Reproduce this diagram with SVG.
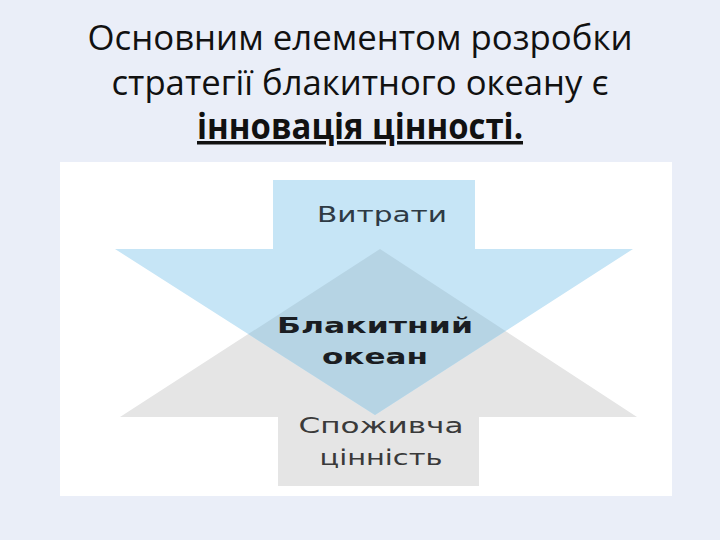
<svg xmlns="http://www.w3.org/2000/svg" width="720" height="540" viewBox="0 0 720 540">
<style>
.title{font-family:"Open Sans","Noto Sans","Liberation Sans",sans-serif;font-size:35px;fill:#111;text-anchor:middle}
.lbl{font-family:"DejaVu Sans","Liberation Sans",sans-serif;font-size:22px;text-anchor:middle}
</style>
<rect x="0" y="0" width="720" height="540" fill="#eaeef8"/>
<g id="title">
<text class="title" x="360" y="50" textLength="545" lengthAdjust="spacingAndGlyphs">Основним елементом розробки</text>
<text class="title" x="360" y="95" textLength="497" lengthAdjust="spacingAndGlyphs">стратегії блакитного океану є</text>
<text class="title" x="360" y="139" font-weight="bold" text-decoration="underline" textLength="326" lengthAdjust="spacingAndGlyphs">інновація цінності.</text>
</g>
<rect id="panel" x="60" y="162" width="612" height="334" fill="#ffffff"/>
<g id="value-arrow">
<polygon points="278,417 120,417 380,249 637,417 479,417 479,486 278,486" fill="#e5e5e5"/>
<text class="lbl" x="381" y="433" fill="#3a3a3a" font-size="23" textLength="165" lengthAdjust="spacingAndGlyphs">Споживча</text>
<text class="lbl" x="381" y="465" fill="#3a3a3a" font-size="23" textLength="123" lengthAdjust="spacingAndGlyphs">цінність</text>
</g>
<g id="cost-arrow">
<polygon points="273,180 475,180 475,249 633,249 375,415 115,249 273,249" fill="#c6e5f6"/>
<text class="lbl" x="382" y="222" fill="#2e3a44" font-size="25" textLength="130" lengthAdjust="spacingAndGlyphs">Витрати</text>
</g>
<g id="blue-ocean">
<polygon points="380,249 505.5,331 375,415 248.3,334.1" fill="#b6d4e4"/>
<text class="lbl" x="375" y="333" font-weight="bold" fill="#1a1d22" textLength="196" lengthAdjust="spacingAndGlyphs">Блакитний</text>
<text class="lbl" x="375" y="364" font-weight="bold" fill="#1a1d22" textLength="106" lengthAdjust="spacingAndGlyphs">океан</text>
</g>
</svg>
